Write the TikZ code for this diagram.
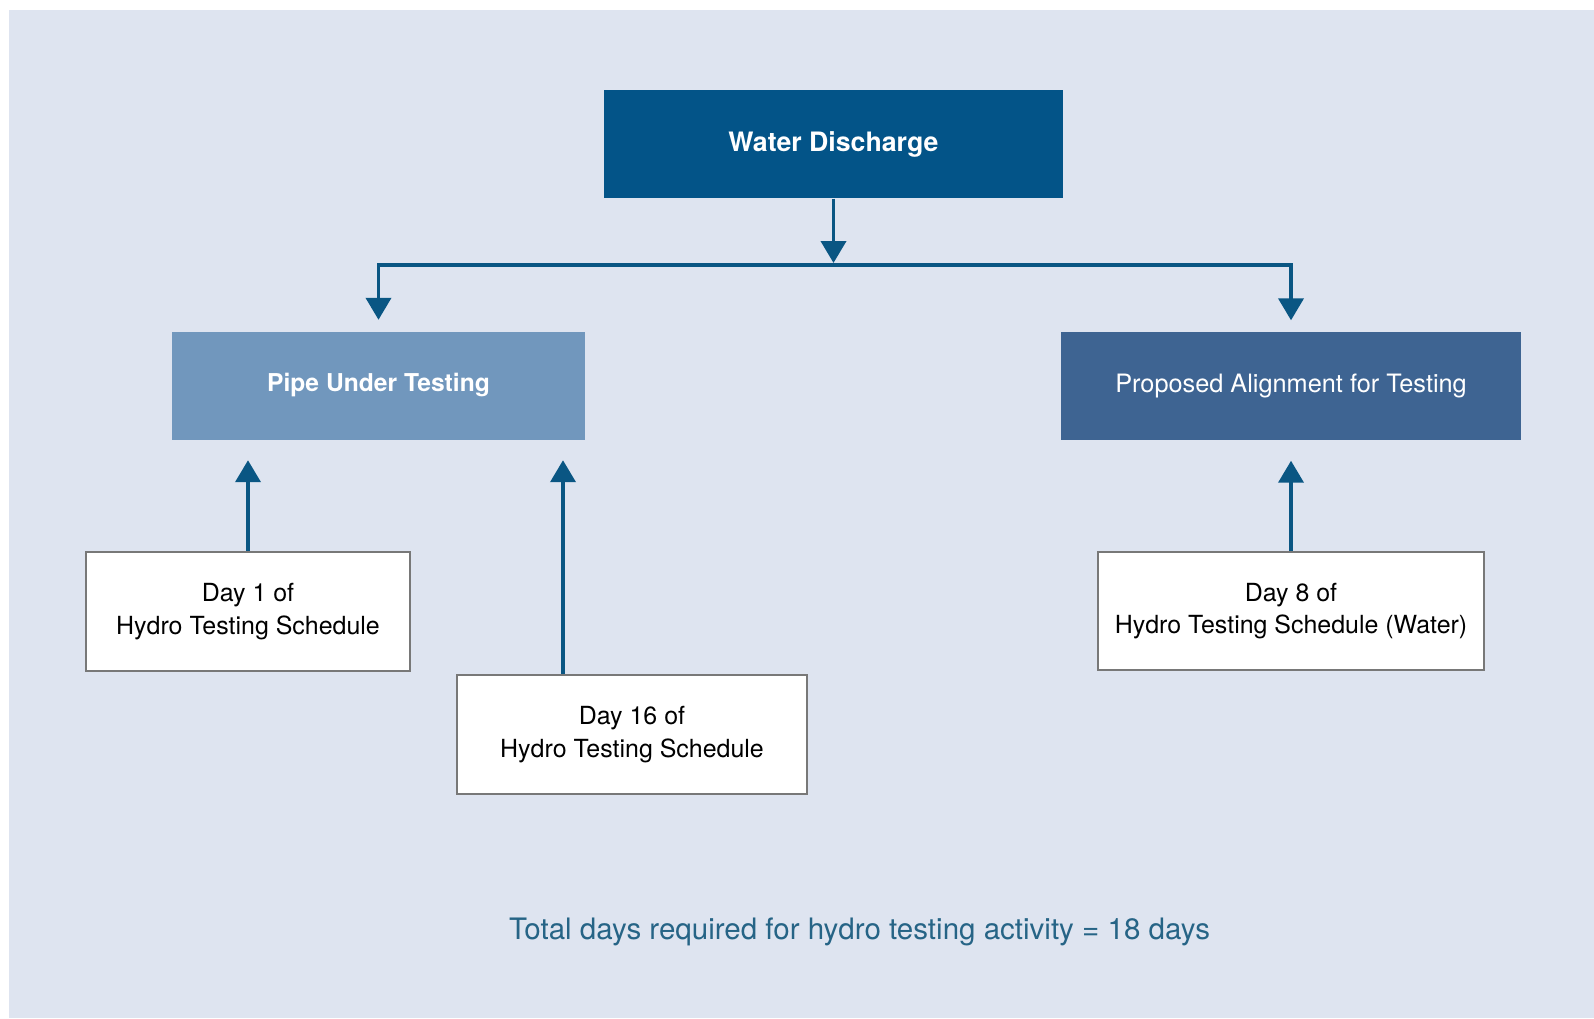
\documentclass[tikz,border=0pt]{standalone}
\usepackage{fontspec}
\setmainfont{TeX Gyre Heros}
\usetikzlibrary{arrows.meta}
\definecolor{panel}{RGB}{222,228,240}
\definecolor{deepblue}{RGB}{3,84,136}
\definecolor{steelblue}{RGB}{113,151,189}
\definecolor{midblue}{RGB}{62,100,146}
\definecolor{arrowblue}{RGB}{10,86,131}
\definecolor{totalblue}{RGB}{38,100,134}
\definecolor{boxgray}{RGB}{120,120,120}

\begin{document}
\begin{tikzpicture}[
	topbox/.style={inner sep=0pt, minimum height=1.08cm, text=white, font=\fontsize{7.6}{9}\selectfont\bfseries},
	daybox/.style={draw=boxgray, line width=0.6pt, fill=white, inner sep=0pt, minimum height=1.19cm, align=center, font=\fontsize{7.1}{9.2}\selectfont},
	link/.style={draw=arrowblue, line width=1.1pt, -{Triangle[width=0.25cm,length=0.22cm]}}
	]
	\useasboundingbox (0,0) rectangle (15.94,-10.18);
	\fill[white] (0,0) rectangle (15.94,-10.18);
	\fill[panel] (0.09,-0.10) rectangle (15.94,-10.18);
	
	\node[topbox, fill=deepblue, minimum width=4.59cm] at (8.335,-1.44)(water){Water Discharge};
	\node[topbox, fill=steelblue, minimum width=4.13cm, font=\fontsize{7.0}{9}\selectfont\bfseries] at (3.785,-3.855)(pipe){Pipe Under Testing};
	\node[topbox, fill=midblue, minimum width=4.6cm, font=\fontsize{7.2}{9}\selectfont] at (12.91,-3.86)(prop){Proposed Alignment for Testing};
	
	\node[daybox, minimum width=3.24cm] at (2.48,-6.115)(day1){Day 1 of\\Hydro Testing Schedule};
	\node[daybox, minimum width=3.5cm] at (6.32,-7.345)(day16){Day 16 of\\Hydro Testing Schedule};
	\node[daybox, minimum width=3.86cm, minimum height=1.18cm] at (12.91,-6.11)(day8){Day 8 of\\Hydro Testing Schedule (Water)};
	
	\node[text=totalblue, font=\fontsize{8.4}{10}\selectfont] at (8.595,-9.32)(total){Total days required for hydro testing activity = 18 days};
	
	% branching from the top box
	\coordinate (bus) at (8.35,-2.65);
	\coordinate (d16top) at ([xshift=-0.69cm]day16.north);
	\draw[link, shorten >=0.02cm] (water.south) -- (water.south |- bus);
	\draw[link, shorten >=0.11cm] (water.south |- bus) -- (pipe.north |- bus) -- (pipe.north);
	\draw[link, shorten >=0.11cm] (water.south |- bus) -- (prop.north |- bus) -- (prop.north);
	
	\draw[link, shorten >=0.2cm] (day1.north) -- (day1.north |- pipe.south);
	\draw[link, shorten >=0.2cm] (d16top) -- (d16top |- pipe.south);
	\draw[link, shorten >=0.2cm] (day8.north) -- (day8.north |- prop.south);
\end{tikzpicture}
\end{document}
